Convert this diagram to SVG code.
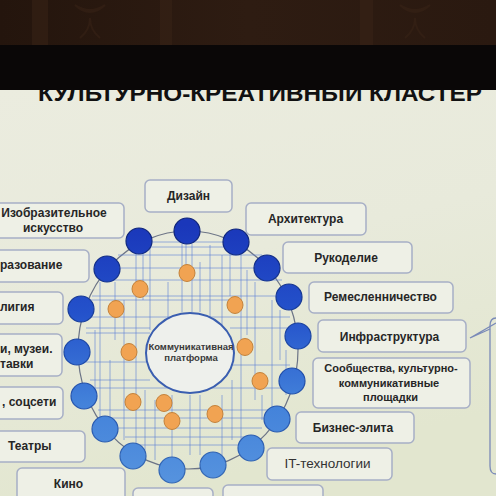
<svg xmlns="http://www.w3.org/2000/svg" width="496" height="496" viewBox="0 0 496 496">
<defs>
<linearGradient id="wall" x1="0" y1="0" x2="1" y2="0">
<stop offset="0" stop-color="#24150d"/><stop offset="0.5" stop-color="#2e1c12"/><stop offset="1" stop-color="#2a1910"/>
</linearGradient>
<linearGradient id="screen" x1="0" y1="0" x2="0.3" y2="1">
<stop offset="0" stop-color="#ebecdf"/><stop offset="0.5" stop-color="#e8eadb"/><stop offset="1" stop-color="#e2e6cf"/>
</linearGradient>
<linearGradient id="blue" gradientUnits="userSpaceOnUse" x1="0" y1="225" x2="0" y2="480">
<stop offset="0" stop-color="#1a37ba"/><stop offset="0.35" stop-color="#2452cb"/><stop offset="0.7" stop-color="#4382da"/><stop offset="1" stop-color="#5592de"/>
</linearGradient>
<linearGradient id="blueS" gradientUnits="userSpaceOnUse" x1="0" y1="225" x2="0" y2="480">
<stop offset="0" stop-color="#0e2378"/><stop offset="0.5" stop-color="#1c48a8"/><stop offset="1" stop-color="#3468b4"/>
</linearGradient>
<clipPath id="titleClip"><rect x="0" y="90" width="496" height="406"/></clipPath>
<style>
.box{fill:#eef0e6;stroke:#a7afc6;stroke-width:1.5}
.lbl{font-family:"Liberation Sans",Arial,sans-serif;font-weight:bold;font-size:12px;fill:#262626}
.sm{font-size:11px}
.reg{font-weight:normal;font-size:13.5px;fill:#333}
.ctr{font-size:9.5px;fill:#3a3a3a}
.bc{fill:url(#blue);stroke:url(#blueS);stroke-width:1.2}
.oc{fill:#f1a352;stroke:#c4823a;stroke-width:1}
.ln{stroke:#5a80d6;stroke-width:1;fill:none;opacity:0.6}
.ring{stroke:#6c7486;stroke-width:1.2;fill:none}
.br{stroke:#7a8ab8;stroke-width:1.3;fill:none}
</style>
</defs>
<!-- wallpaper, bezel, screen -->
<rect x="0" y="0" width="496" height="46" fill="url(#wall)"/>
<g fill="#3a2417" opacity="0.5">
<rect x="32" y="0" width="16" height="46"/><rect x="160" y="0" width="12" height="46"/><rect x="360" y="0" width="13" height="46"/>
</g>
<g fill="none" stroke="#3a2417" stroke-width="2" opacity="0.5">
<path d="M75,5 q15,10 30,0 q-15,14 -30,0 M90,18 q0,12 -10,20 M90,18 q0,12 10,20"/>
<path d="M400,5 q15,10 30,0 q-15,14 -30,0 M415,18 q0,12 -10,20 M415,18 q0,12 10,20"/>
</g>
<rect x="0" y="45" width="496" height="45" fill="#0a0707"/>
<rect x="0" y="90" width="496" height="406" fill="url(#screen)"/>
<text x="38" y="101" clip-path="url(#titleClip)" font-family="'Liberation Sans',Arial,sans-serif" font-weight="bold" font-size="22" fill="#111" textLength="444" lengthAdjust="spacingAndGlyphs">КУЛЬТУРНО-КРЕАТИВНЫЙ КЛАСТЕР</text>

<!-- label nodes -->
<g id="n-dizain"><rect class="box" x="145" y="180" width="87" height="32" rx="5"/><text class="lbl" x="188.5" y="200" text-anchor="middle">Дизайн</text></g>
<g id="n-izo"><rect class="box" x="-10" y="203" width="134" height="35" rx="5"/><text class="lbl" x="54" y="217" text-anchor="middle">Изобразительное</text><text class="lbl" x="53" y="232" text-anchor="middle">искусство</text></g>
<g id="n-obraz"><rect class="box" x="-10" y="250" width="99" height="32" rx="5"/><text class="lbl" x="0" y="269">разование</text></g>
<g id="n-relig"><rect class="box" x="-10" y="292" width="73" height="32" rx="5"/><text class="lbl" x="0" y="311">лигия</text></g>
<g id="n-muzei"><rect class="box" x="-10" y="334" width="72" height="42" rx="5"/><text class="lbl" x="0" y="353">и, музеи.</text><text class="lbl" x="0" y="368">тавки</text></g>
<g id="n-socseti"><rect class="box" x="-10" y="387" width="73" height="32" rx="5"/><text class="lbl" x="2" y="406">, соцсети</text></g>
<g id="n-teatry"><rect class="box" x="-10" y="431" width="95" height="31" rx="5"/><text class="lbl" x="8" y="450">Театры</text></g>
<g id="n-kino"><rect class="box" x="17" y="468" width="108" height="40" rx="5"/><text class="lbl" x="68.5" y="488" text-anchor="middle">Кино</text></g>
<g id="n-b1"><rect class="box" x="133" y="488" width="80" height="20" rx="5"/></g>
<g id="n-b2"><rect class="box" x="223" y="485" width="100" height="20" rx="5"/></g>
<g id="n-arh"><rect class="box" x="246" y="203" width="120" height="32" rx="5"/><text class="lbl" x="305.5" y="223" text-anchor="middle">Архитектура</text></g>
<g id="n-ruk"><rect class="box" x="283" y="242" width="129" height="31" rx="5"/><text class="lbl" x="346" y="262" text-anchor="middle">Рукоделие</text></g>
<g id="n-rem"><rect class="box" x="309" y="282" width="144" height="31" rx="5"/><text class="lbl" x="380.5" y="301" text-anchor="middle">Ремесленничество</text></g>
<g id="n-infra"><rect class="box" x="318" y="320" width="148" height="32" rx="5"/><text class="lbl" x="389.5" y="341" text-anchor="middle">Инфраструктура</text></g>
<g id="n-soob"><rect class="box" x="313" y="358" width="157" height="50" rx="5"/><text class="lbl sm" x="391" y="372" text-anchor="middle">Сообщества, культурно-</text><text class="lbl sm" x="389" y="387" text-anchor="middle">коммуникативные</text><text class="lbl sm" x="390.5" y="401" text-anchor="middle">площадки</text></g>
<g id="n-biz"><rect class="box" x="296" y="412" width="118" height="31" rx="5"/><text class="lbl" x="353" y="432" text-anchor="middle">Бизнес-элита</text></g>
<g id="n-it"><rect class="box" x="267" y="448" width="125" height="32" rx="5"/><text class="lbl reg" x="327.5" y="468" text-anchor="middle">IT-технологии</text></g>

<!-- connectors -->
<g id="connectors">
<ellipse class="ring" cx="188" cy="350" rx="110" ry="119"/>
<path class="ln" d="M182,244V312M186,244V265M192,244V312M136,253V445M143,253V300M100,282V420M115,282V340M124,300V440M150,245V330M168,282V318M200,262V312M210,245V320M222,255V330M230,254V296M241,254V440M247,270V335M255,282V400M272,300V410M280,310V360M286,350V395M95,330V400M110,360V420M145,390V450M155,400V460M172,395V460M190,395V455M200,395V455M222,395V455M232,380V440M262,395V420"/>
<path class="ln" d="M150,242H225M150,247H228M118,255H262M120,268H275M100,280H282M92,296H290M88,300H230M88,317H290M86,328H150M86,333H150M230,328H292M84,362H150M230,365H290M90,380H150M92,388H286M98,410H280M108,418H268M114,428H262M125,437H250M140,445H240"/>
<path class="br" d="M496,318Q490,318 490,326V466Q490,474 496,474"/>
<path class="br" d="M490,329L470,338L496,323"/>
</g>

<!-- center node -->
<g id="n-platform">
<ellipse cx="190" cy="353" rx="44" ry="40" fill="#eef0ec" stroke="#3a5eb0" stroke-width="2"/>
<text class="lbl ctr" x="191" y="350" text-anchor="middle">Коммуникативная</text>
<text class="lbl ctr" x="191" y="361" text-anchor="middle">платформа</text>
</g>

<!-- blue ring nodes -->
<g id="b1"><circle class="bc" cx="187" cy="231" r="13"/></g>
<g id="b2"><circle class="bc" cx="139" cy="241" r="13"/></g>
<g id="b3"><circle class="bc" cx="107" cy="269" r="13"/></g>
<g id="b4"><circle class="bc" cx="81" cy="309" r="13"/></g>
<g id="b5"><circle class="bc" cx="77" cy="352" r="13"/></g>
<g id="b6"><circle class="bc" cx="84" cy="396" r="13"/></g>
<g id="b7"><circle class="bc" cx="105" cy="429" r="13"/></g>
<g id="b8"><circle class="bc" cx="133" cy="456" r="13"/></g>
<g id="b9"><circle class="bc" cx="172" cy="470" r="13"/></g>
<g id="b10"><circle class="bc" cx="213" cy="465" r="13"/></g>
<g id="b11"><circle class="bc" cx="251" cy="448" r="13"/></g>
<g id="b12"><circle class="bc" cx="277" cy="419" r="13"/></g>
<g id="b13"><circle class="bc" cx="292" cy="381" r="13"/></g>
<g id="b14"><circle class="bc" cx="298" cy="336" r="13"/></g>
<g id="b15"><circle class="bc" cx="289" cy="297" r="13"/></g>
<g id="b16"><circle class="bc" cx="267" cy="268" r="13"/></g>
<g id="b17"><circle class="bc" cx="236" cy="242" r="13"/></g>

<!-- orange nodes -->
<g id="o1"><ellipse class="oc" cx="187" cy="273" rx="8" ry="8.5"/></g>
<g id="o2"><ellipse class="oc" cx="140" cy="289" rx="8" ry="8.5"/></g>
<g id="o3"><ellipse class="oc" cx="116" cy="309" rx="8" ry="8.5"/></g>
<g id="o4"><ellipse class="oc" cx="235" cy="305" rx="8" ry="8.5"/></g>
<g id="o5"><ellipse class="oc" cx="129" cy="352" rx="8" ry="8.5"/></g>
<g id="o6"><ellipse class="oc" cx="245" cy="347" rx="8" ry="8.5"/></g>
<g id="o7"><ellipse class="oc" cx="260" cy="381" rx="8" ry="8.5"/></g>
<g id="o8"><ellipse class="oc" cx="133" cy="402" rx="8" ry="8.5"/></g>
<g id="o9"><ellipse class="oc" cx="164" cy="403" rx="8" ry="8.5"/></g>
<g id="o10"><ellipse class="oc" cx="172" cy="421" rx="8" ry="8.5"/></g>
<g id="o11"><ellipse class="oc" cx="215" cy="414" rx="8" ry="8.5"/></g>
</svg>
